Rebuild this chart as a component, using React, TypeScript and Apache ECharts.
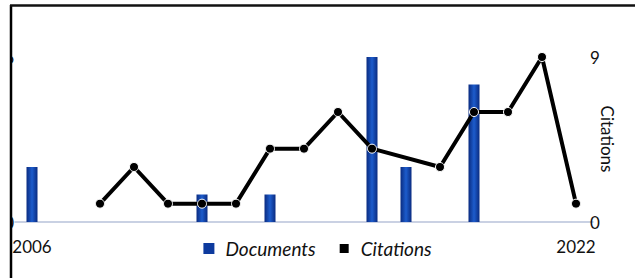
import React, { useEffect, useRef } from "react";
import * as echarts from "echarts";

const years = ["2006","2007","2008","2009","2010","2011","2012","2013","2014","2015","2016","2017","2018","2019","2020","2021","2022"];
const documents = [2, null, null, null, null, 1, null, 1, null, null, 6, 2, null, 5, null, null, null];
const citations = [null, null, 1, 3, 1, 1, 1, 4, 4, 6, 4, null, 3, 6, 6, 9, 1];
const docTicks = [0, 6];
const citTicks = [0, 9];
const rightAxisTitle = "Citations";

export default function App() {
  const ref = useRef<HTMLDivElement>(null);
  useEffect(() => {
    if (!ref.current) return;
    const chart = echarts.init(ref.current, undefined, { renderer: "svg" });
    const font = "Lato, 'Open Sans', sans-serif";
    chart.setOption({
      animation: false,
      grid: { left: 15, right: 42, top: 57, bottom: 56, containLabel: false },
      legend: {
        bottom: 15,
        left: "center",
        icon: "rect",
        itemWidth: 11,
        itemHeight: 11,
        itemGap: 22,
        textStyle: { fontFamily: font, fontSize: 19, fontStyle: "italic", color: "#111", padding: [0, 0, 0, 6] },
        data: [
          { name: "Documents", itemStyle: { color: "#0d3a9e" } },
          { name: "Citations", itemStyle: { color: "#000" } },
        ],
      },
      xAxis: {
        type: "category",
        data: years,
        offset: 7,
        axisLine: { lineStyle: { color: "#b8c2da", width: 1.5 } },
        axisTick: { show: false },
        axisLabel: {
          interval: (i: number) => i === 0 || i === years.length - 1,
          fontFamily: font,
          fontSize: 17,
          color: "#111",
          margin: 9,
        },
      },
      yAxis: [
        {
          type: "value",
          min: docTicks[0],
          max: docTicks[1],
          interval: docTicks[1] - docTicks[0],
          splitLine: { show: false },
          axisLine: { show: false },
          axisTick: { show: false },
          axisLabel: { fontFamily: font, fontSize: 17, color: "#111", margin: 1 },
        },
        {
          type: "value",
          min: citTicks[0],
          max: citTicks[1],
          interval: citTicks[1] - citTicks[0],
          position: "right",
          splitLine: { show: false },
          axisLine: { show: false },
          axisTick: { show: false },
          axisLabel: { fontFamily: font, fontSize: 17, color: "#111", margin: -3 },
        },
      ],
      series: [
        {
          name: "Documents",
          type: "bar",
          yAxisIndex: 0,
          data: documents,
          barWidth: 11,
          itemStyle: {
            color: new echarts.graphic.LinearGradient(0, 0, 1, 0, [
              { offset: 0, color: "#0a2b80" },
              { offset: 0.5, color: "#1d5ccc" },
              { offset: 1, color: "#0a2b80" },
            ]),
          },
        },
        {
          name: "Citations",
          type: "line",
          yAxisIndex: 1,
          data: citations,
          connectNulls: true,
          symbol: "circle",
          symbolSize: 9,
          lineStyle: { color: "#000", width: 4 },
          itemStyle: { color: "#000", borderColor: "#fff", borderWidth: 1 },
          z: 3,
        },
      ],
      graphic: [
        { type: "rect", shape: { x: 0, y: 0, width: 10, height: 278 }, style: { fill: "#fff" }, z: 100 },
        { type: "line", shape: { x1: 11, y1: 5, x2: 11, y2: 278 }, style: { stroke: "#000", lineWidth: 2.5 }, z: 101 },
        { type: "line", shape: { x1: 10, y1: 5.5, x2: 635, y2: 5.5 }, style: { stroke: "#111", lineWidth: 2.5 }, z: 101 },
        {
          type: "text",
          x: 607,
          y: 139,
          rotation: -Math.PI / 2,
          style: { text: rightAxisTitle, fontFamily: font, fontSize: 17, fill: "#111", align: "center", verticalAlign: "middle" },
          z: 50,
        },
      ],
    });
    return () => chart.dispose();
  }, []);
  return <div ref={ref} style={{ position: "fixed", left: 0, top: 0, width: 635, height: 278, background: "#fff" }} />;
}
